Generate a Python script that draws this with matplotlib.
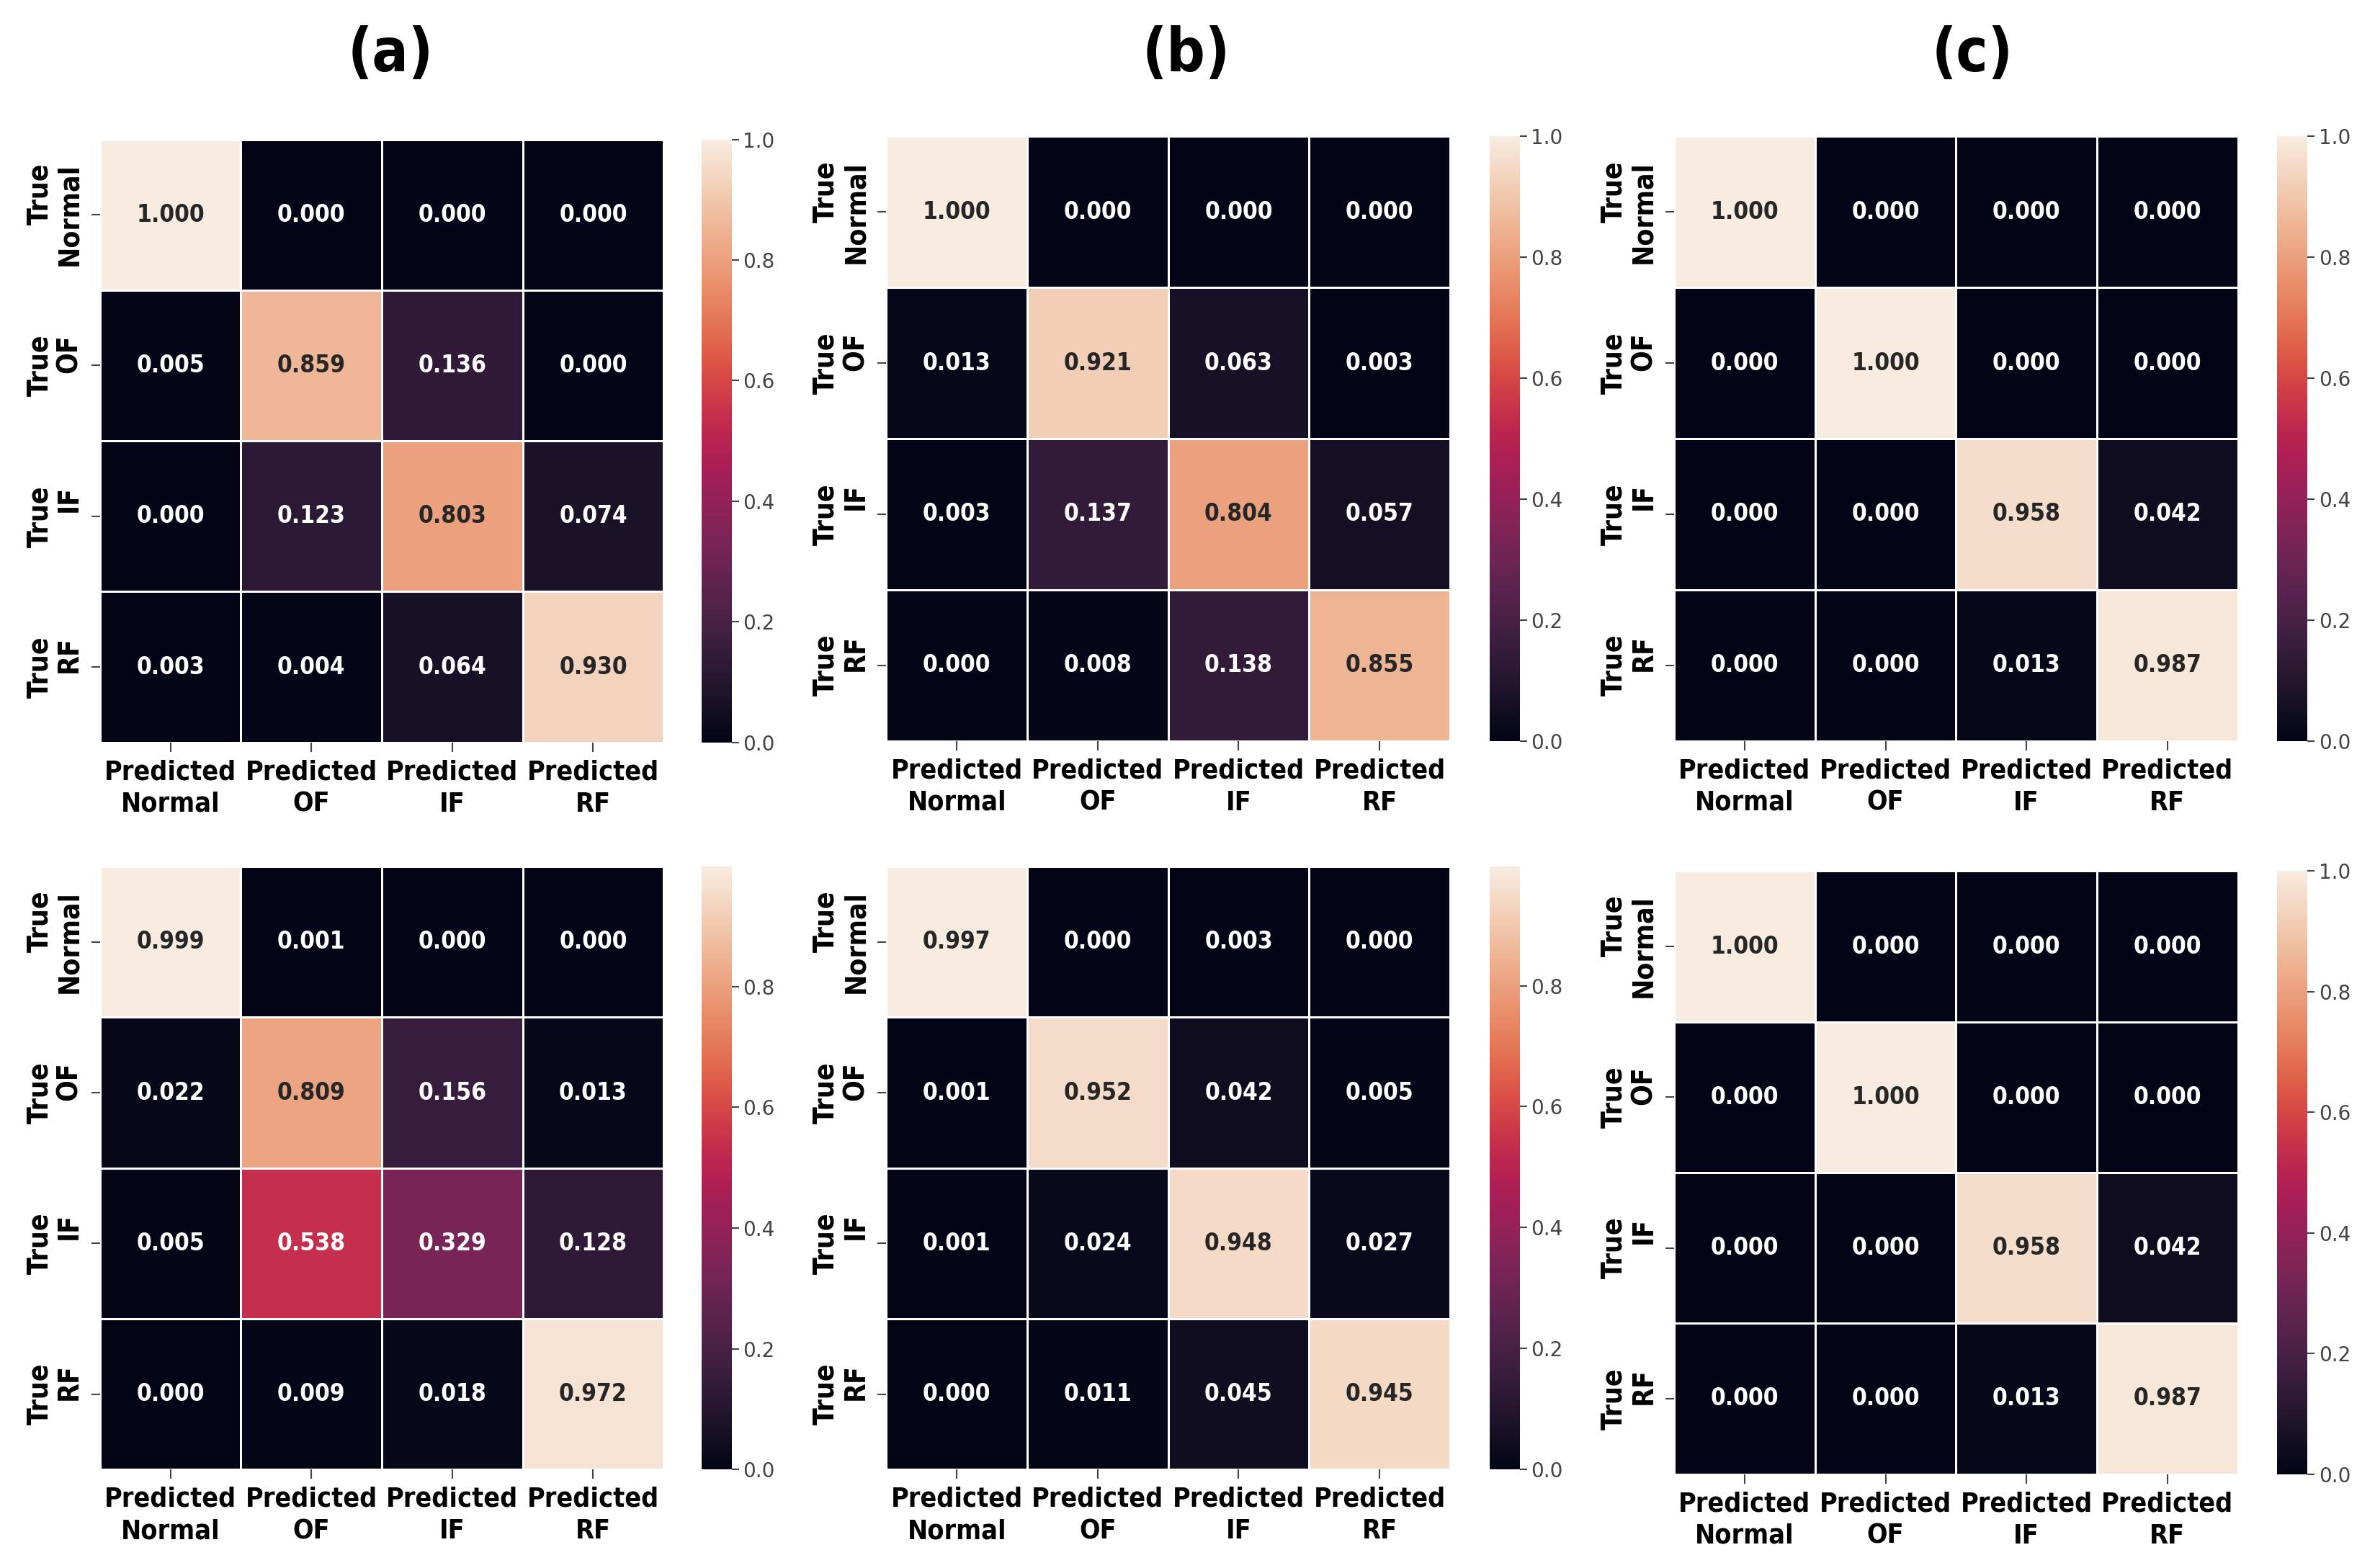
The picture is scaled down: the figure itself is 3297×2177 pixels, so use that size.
import numpy as np
import matplotlib
matplotlib.use("Agg")
import matplotlib.pyplot as plt
from matplotlib.colors import ListedColormap
import seaborn as sns

# ---- data ----
x_labels = ["Predicted\nNormal", "Predicted\nOF", "Predicted\nIF", "Predicted\nRF"]
y_labels = ["True\nNormal", "True\nOF", "True\nIF", "True\nRF"]
panel_titles = ["(a)", "(b)", "(c)"]

cm_a_top = [[1.000, 0.000, 0.000, 0.000],
            [0.005, 0.859, 0.136, 0.000],
            [0.000, 0.123, 0.803, 0.074],
            [0.003, 0.004, 0.064, 0.930]]
cm_b_top = [[1.000, 0.000, 0.000, 0.000],
            [0.013, 0.921, 0.063, 0.003],
            [0.003, 0.137, 0.804, 0.057],
            [0.000, 0.008, 0.138, 0.855]]
cm_c_top = [[1.000, 0.000, 0.000, 0.000],
            [0.000, 1.000, 0.000, 0.000],
            [0.000, 0.000, 0.958, 0.042],
            [0.000, 0.000, 0.013, 0.987]]
cm_a_bot = [[0.999, 0.001, 0.000, 0.000],
            [0.022, 0.809, 0.156, 0.013],
            [0.005, 0.538, 0.329, 0.128],
            [0.000, 0.009, 0.018, 0.972]]
cm_b_bot = [[0.997, 0.000, 0.003, 0.000],
            [0.001, 0.952, 0.042, 0.005],
            [0.001, 0.024, 0.948, 0.027],
            [0.000, 0.011, 0.045, 0.945]]
cm_c_bot = [[1.000, 0.000, 0.000, 0.000],
            [0.000, 1.000, 0.000, 0.000],
            [0.000, 0.000, 0.958, 0.042],
            [0.000, 0.000, 0.013, 0.987]]

matrices = [[cm_a_top, cm_b_top, cm_c_top],
            [cm_a_bot, cm_b_bot, cm_c_bot]]

# ---- colormap: seaborn rocket, slightly muted like the reference ----
_rocket = sns.color_palette("rocket", as_cmap=True)
_rgb = _rocket(np.linspace(0, 1, 256))[:, :3]
_lum = (_rgb @ np.array([0.299, 0.587, 0.114]))[:, None]
_muted = _rgb * 0.85 + _lum * 0.15
CMAP = ListedColormap(_muted)

# ---- layout (fractions of a 1568x1035 frame) ----
W, H = 1568.0, 1035.0
col_left = [66, 585, 1105]
cbar_left = [463, 983, 1503]
hm_w = 372
cb_w = 20
rows_tb = [[(92, 490), (90, 489), (90, 489)],
           [(572, 970), (572, 970), (575, 973)]]
title_x = [258, 783, 1302]
title_y = 36

fig = plt.figure(figsize=(32.98, 21.77), dpi=100)
fig.patch.set_facecolor("white")

FAM = ["DejaVu Sans"]
STRETCH = "condensed"

for r in range(2):
    for c in range(3):
        top, bot = rows_tb[r][c]
        ax = fig.add_axes([col_left[c] / W, 1 - bot / H, hm_w / W, (bot - top) / H])
        cax = fig.add_axes([cbar_left[c] / W, 1 - bot / H, cb_w / W, (bot - top) / H])
        data = np.array(matrices[r][c])
        sns.heatmap(data, ax=ax, cbar_ax=cax, cmap=CMAP, annot=True, fmt=".3f",
                    linewidths=2, linecolor="white",
                    annot_kws={"weight": "bold", "size": 24, "family": FAM,
                               "stretch": STRETCH},
                    xticklabels=x_labels, yticklabels=y_labels)
        ax.set_xticklabels(x_labels, rotation=0, fontsize=27, fontweight="bold",
                           family=FAM, stretch=STRETCH, linespacing=1.3)
        ax.set_yticklabels(y_labels, rotation=90, fontsize=28, fontweight="bold",
                           family=FAM, stretch=STRETCH, va="center", linespacing=1.1)
        ax.tick_params(axis="both", length=9, width=1.5, color="#444444", pad=8)
        cax.tick_params(labelsize=20, length=7, width=1.5, color="#444444",
                        labelcolor="#444444", pad=4)
        for t in cax.get_yticklabels():
            t.set_family(FAM)

for c in range(3):
    fig.text(title_x[c] / W, 1 - title_y / H, panel_titles[c], ha="center", va="center",
             fontsize=60, fontweight="bold", family=FAM, stretch=STRETCH)

fig.savefig("out.png", dpi=100, facecolor="white")
